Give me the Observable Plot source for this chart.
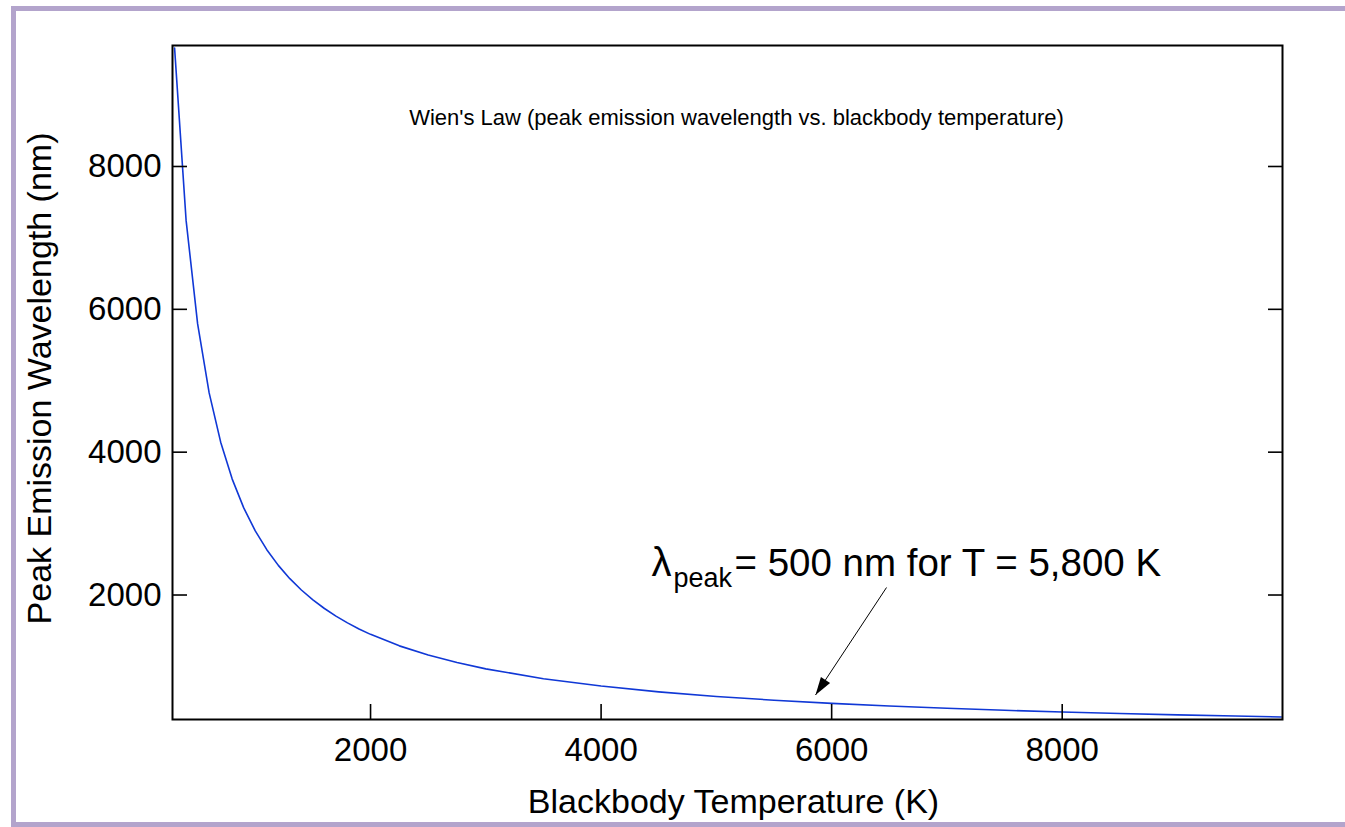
<!DOCTYPE html>
<html>
<head>
<meta charset="utf-8">
<script src="https://cdn.jsdelivr.net/npm/d3@7"></script>
<script src="https://cdn.jsdelivr.net/npm/@observablehq/plot@0.6"></script>
<style>
  html, body { margin: 0; padding: 0; background: #ffffff; }
  #wrap { position: relative; width: 1345px; height: 827px; overflow: hidden; background: #fff; }
  #wrap svg { position: absolute; left: 0; top: 0; }
  #border { position: absolute; left: 11px; top: 6px; width: 1400px; height: 821px; box-sizing: border-box;
            border-top: 5px solid #b3a4cc; border-left: 5px solid #b3a4cc; border-bottom: 5px solid #b3a4cc;
            pointer-events: none; }
</style>
</head>
<body>
<div id="wrap"><div id="border"></div></div>
<script>
// Blackbody temperature (K) and peak emission wavelength (nm)
const temperatureK = [300, 400, 500, 600, 700, 800, 900, 1000, 1100, 1200, 1300, 1400, 1500, 1600, 1700, 1800, 1900, 2000,
  2250, 2500, 2750, 3000, 3500, 4000, 4500, 5000, 5500, 6000, 6500, 7000, 7500, 8000, 8500, 9000, 9500, 9900];
const peakWavelengthNm = [9660, 7245, 5796, 4830, 4140, 3623, 3220, 2898, 2635, 2415, 2229, 2070, 1932, 1811, 1705, 1610, 1525, 1449,
  1288, 1159, 1054, 966, 828, 725, 644, 580, 527, 483, 446, 414, 386, 362, 341, 322, 305, 293];

const xTicks = [2000, 4000, 6000, 8000];
const yTicks = [2000, 4000, 6000, 8000];
const xDomain = [282, 9911];
const yDomain = [257, 9694];

const titleText = "Wien's Law (peak emission wavelength vs. blackbody temperature)";
const xLabel = "Blackbody Temperature (K)";
const yLabel = "Peak Emission Wavelength (nm)";

// annotation: text anchor and arrow (data coordinates)
const noteSymbol = "λ";
const noteSub = "peak";
const noteRest = "= 500 nm for T = 5,800 K";
const noteAnchor = [{T: 4437, nm: 2270}];
const noteArrow = [{T1: 6476, nm1: 2105, T2: 5860, nm2: 600}];

const points = temperatureK.map((T, i) => ({T, nm: peakWavelengthNm[i]}));

const font = '"Liberation Sans", Arial, Helvetica, sans-serif';

// narrow filled arrowhead, tip at origin, pointing up before rotation
const arrowHead = {
  draw(ctx) { ctx.moveTo(0, 0); ctx.lineTo(-5.5, 18); ctx.lineTo(5.5, 18); ctx.closePath(); }
};

const chart = Plot.plot({
  width: 1345,
  height: 827,
  marginLeft: 172,
  marginRight: 63,
  marginTop: 45,
  marginBottom: 108,
  style: {fontFamily: font, fontSize: "33px", background: "transparent", color: "black"},
  x: {domain: xDomain},
  y: {domain: yDomain},
  marks: [
    Plot.line(points, {x: "T", y: "nm", stroke: "#1038d6", strokeWidth: 1.6}),
    Plot.axisX({ticks: xTicks, tickSize: -15, tickPadding: 33, tickFormat: d => String(d), fontSize: 33, label: null, strokeWidth: 1.6}),
    Plot.axisY({ticks: yTicks, tickSize: -15, tickPadding: 26, tickFormat: d => String(d), fontSize: 33, label: null, strokeWidth: 1.6}),
    Plot.axisY({anchor: "right", ticks: yTicks, tickSize: -15, tickFormat: () => "", label: null, strokeWidth: 1.6}),
    Plot.frame({stroke: "black", strokeWidth: 2}),
    Plot.text([titleText], {text: d => d, frameAnchor: "top", textAnchor: "middle", dx: 9, dy: 72, lineAnchor: "middle", fontSize: 22, fill: "black"}),
    Plot.text([xLabel], {text: d => d, frameAnchor: "bottom", textAnchor: "middle", dx: 6, dy: 93, lineAnchor: "bottom", fontSize: 34, fill: "black"}),
    Plot.text([yLabel], {text: d => d, frameAnchor: "left", textAnchor: "middle", rotate: -90, dx: -122, dy: -4, lineAnchor: "bottom", fontSize: 34, fill: "black"}),
    Plot.link(noteArrow, {x1: "T1", y1: "nm1", x2: "T2", y2: "nm2", stroke: "black", strokeWidth: 1}),
    Plot.dot(noteArrow, {x: "T2", y: "nm2", symbol: arrowHead, rotate: 213.7, fill: "black", stroke: "none", r: 5}),
    Plot.text(noteAnchor, {x: "T", y: "nm", text: () => noteSymbol, textAnchor: "start", lineAnchor: "bottom", fontSize: 40, fill: "black"}),
    Plot.text(noteAnchor, {x: "T", y: "nm", text: () => noteSub, textAnchor: "start", lineAnchor: "bottom", dx: 22, dy: 11, fontSize: 27, fill: "black"}),
    Plot.text(noteAnchor, {x: "T", y: "nm", text: () => noteRest, textAnchor: "start", lineAnchor: "bottom", dx: 83, fontSize: 38.5, fill: "black"})
  ]
});
document.getElementById("wrap").insertBefore(chart, document.getElementById("border"));
</script>
</body>
</html>
